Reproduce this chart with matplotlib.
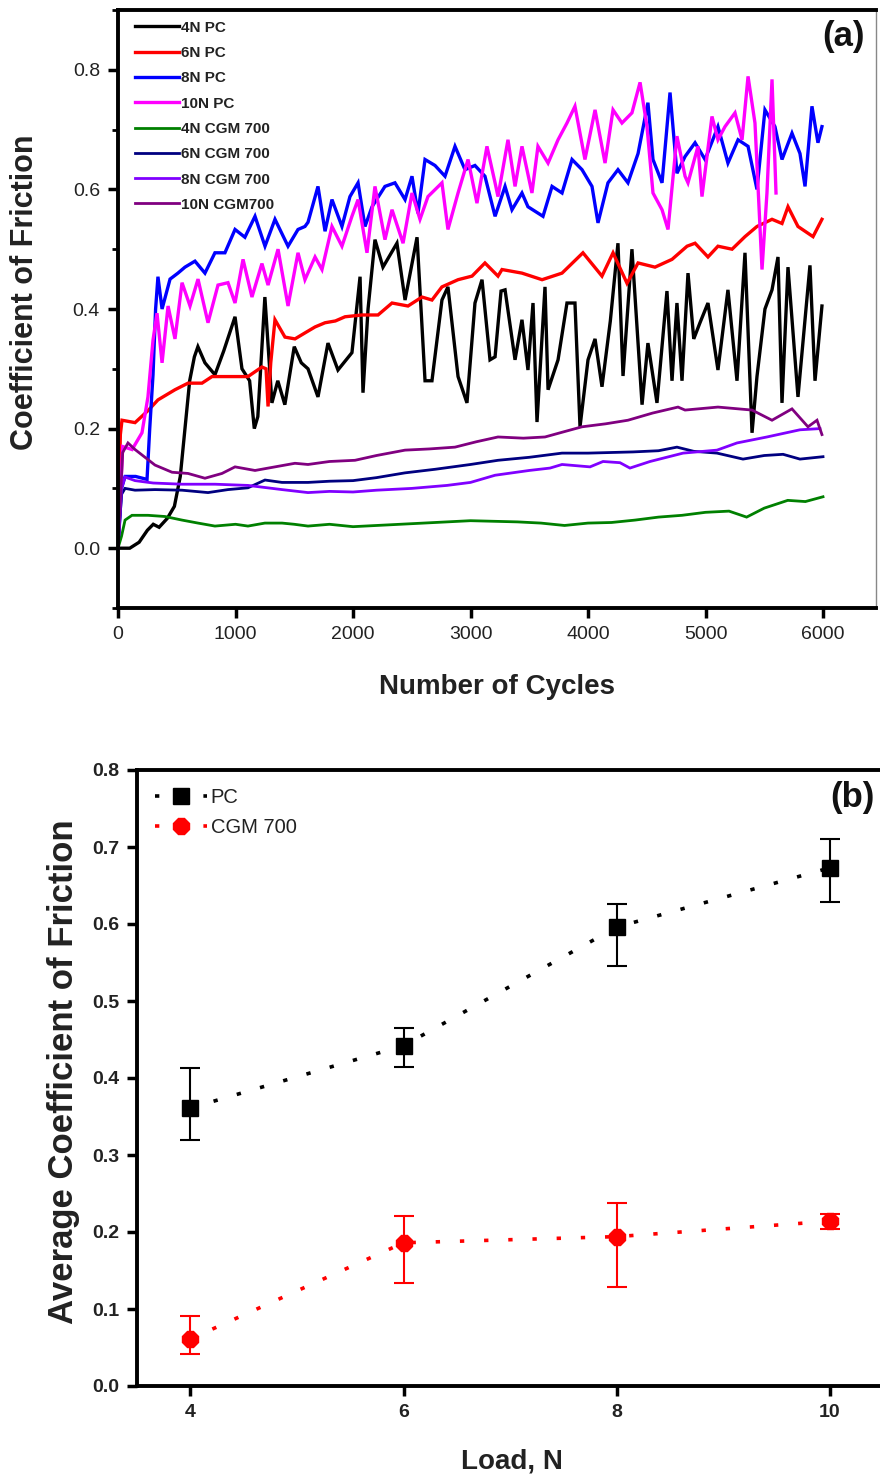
import matplotlib
matplotlib.use("Agg")
import matplotlib.pyplot as plt
from matplotlib.lines import Line2D
from matplotlib.ticker import MultipleLocator

plt.rcParams['font.family'] = ['Liberation Sans', 'DejaVu Sans']

# ---------------- Panel (a) data: (cycles, COF) ----------------
pc4_x = [0, 100, 180, 250, 300, 350, 420, 480, 530, 570, 610, 650, 680, 740, 825, 900, 996, 1055, 1120, 1160,
         1190, 1250, 1310, 1360, 1420, 1500, 1560, 1617, 1702, 1787, 1872, 1991, 2060, 2085, 2128, 2187, 2255,
         2374, 2443, 2545, 2613, 2672, 2757, 2808, 2894, 2970, 3038, 3098, 3166, 3209, 3260, 3294, 3379, 3438,
         3489, 3532, 3566, 3634, 3660, 3745, 3821, 3889, 3932, 4000, 4060, 4119, 4190, 4255, 4298, 4374, 4460,
         4510, 4587, 4672, 4715, 4757, 4800, 4851, 4900, 4953, 5021, 5106, 5191, 5268, 5336, 5396, 5438, 5506,
         5566, 5617, 5651, 5702, 5787, 5889, 5932, 5991]
pc4_y = [0.0, 0.0, 0.01, 0.03, 0.04, 0.035, 0.05, 0.07, 0.12, 0.2, 0.28, 0.32, 0.337, 0.31, 0.29, 0.33, 0.387, 0.30,
         0.28, 0.20, 0.22, 0.42, 0.243, 0.28, 0.24, 0.337, 0.31, 0.30, 0.253, 0.343, 0.298, 0.327, 0.454, 0.26,
         0.40, 0.516, 0.47, 0.51, 0.415, 0.52, 0.28, 0.28, 0.415, 0.437, 0.287, 0.243, 0.41, 0.449, 0.315, 0.32,
         0.43, 0.432, 0.315, 0.382, 0.298, 0.41, 0.211, 0.437, 0.265, 0.315, 0.41, 0.41, 0.203, 0.315, 0.35, 0.27,
         0.38, 0.51, 0.288, 0.50, 0.24, 0.343, 0.243, 0.43, 0.28, 0.41, 0.28, 0.46, 0.35, 0.377, 0.41, 0.298,
         0.432, 0.28, 0.494, 0.193, 0.287, 0.40, 0.432, 0.487, 0.243, 0.47, 0.253, 0.473, 0.28, 0.405]

pc6_x = [0, 20, 34, 145, 255, 340, 485, 596, 715, 800, 936, 1106, 1225, 1260, 1277, 1300, 1336, 1421, 1506, 1591,
         1677, 1762, 1850, 1932, 2077, 2213, 2332, 2468, 2587, 2672, 2757, 2894, 3013, 3123, 3234, 3268, 3438,
         3609, 3779, 3957, 4119, 4213, 4332, 4426, 4570, 4715, 4843, 4911, 5021, 5106, 5226, 5336, 5438, 5566,
         5651, 5702, 5787, 5915, 5991]
pc6_y = [0.0, 0.19, 0.214, 0.21, 0.23, 0.248, 0.265, 0.276, 0.276, 0.287, 0.287, 0.287, 0.303, 0.30, 0.237, 0.31,
         0.382, 0.353, 0.35, 0.36, 0.37, 0.377, 0.38, 0.387, 0.39, 0.39, 0.41, 0.405, 0.42, 0.415, 0.437, 0.449,
         0.455, 0.477, 0.455, 0.466, 0.46, 0.449, 0.46, 0.494, 0.455, 0.494, 0.443, 0.477, 0.47, 0.483, 0.505,
         0.51, 0.487, 0.505, 0.5, 0.521, 0.538, 0.55, 0.543, 0.571, 0.538, 0.521, 0.55]

pc8_x = [0, 30, 60, 150, 247, 270, 298, 320, 340, 375, 443, 510, 570, 655, 740, 825, 910, 996, 1080, 1166, 1251,
         1336, 1447, 1532, 1591, 1617, 1702, 1762, 1821, 1906, 1974, 2043, 2102, 2162, 2272, 2357, 2443, 2502,
         2553, 2613, 2698, 2783, 2868, 2953, 3038, 3123, 3209, 3294, 3353, 3438, 3489, 3617, 3694, 3779, 3864,
         3949, 4034, 4085, 4170, 4255, 4340, 4426, 4510, 4553, 4630, 4698, 4757, 4826, 4911, 4996, 5106, 5191,
         5277, 5362, 5438, 5506, 5591, 5651, 5736, 5804, 5847, 5906, 5957, 5991]
pc8_y = [0.0, 0.10, 0.12, 0.12, 0.115, 0.2, 0.29, 0.40, 0.454, 0.40, 0.45, 0.46, 0.47, 0.48, 0.46, 0.494, 0.494,
         0.533, 0.52, 0.555, 0.505, 0.55, 0.505, 0.533, 0.538, 0.545, 0.605, 0.53, 0.583, 0.538, 0.588, 0.611,
         0.538, 0.571, 0.605, 0.611, 0.583, 0.622, 0.56, 0.65, 0.64, 0.622, 0.672, 0.633, 0.64, 0.622, 0.555,
         0.605, 0.566, 0.594, 0.571, 0.555, 0.605, 0.594, 0.65, 0.633, 0.605, 0.544, 0.611, 0.633, 0.611, 0.66,
         0.745, 0.65, 0.611, 0.762, 0.627, 0.655, 0.678, 0.65, 0.705, 0.644, 0.683, 0.672, 0.6, 0.733, 0.705,
         0.65, 0.694, 0.66, 0.605, 0.739, 0.678, 0.705]

pc10_x = [0, 40, 120, 204, 255, 298, 332, 375, 426, 485, 545, 613, 681, 766, 851, 936, 996, 1064, 1140, 1225,
          1277, 1362, 1447, 1532, 1591, 1677, 1736, 1821, 1906, 1991, 2043, 2119, 2187, 2272, 2332, 2426, 2502,
          2570, 2638, 2757, 2808, 2894, 2979, 3055, 3140, 3209, 3234, 3319, 3379, 3438, 3523, 3574, 3660, 3745,
          3821, 3889, 3974, 4060, 4145, 4213, 4289, 4374, 4443, 4502, 4553, 4630, 4681, 4757, 4826, 4851, 4936,
          4970, 5055, 5106, 5166, 5251, 5311, 5362, 5421, 5481, 5523, 5566, 5600]
pc10_y = [0.0, 0.17, 0.165, 0.193, 0.253, 0.348, 0.393, 0.31, 0.405, 0.35, 0.444, 0.405, 0.45, 0.377, 0.44, 0.444,
          0.41, 0.483, 0.42, 0.476, 0.44, 0.5, 0.405, 0.494, 0.449, 0.487, 0.466, 0.538, 0.505, 0.555, 0.583,
          0.494, 0.605, 0.516, 0.566, 0.51, 0.594, 0.55, 0.588, 0.611, 0.533, 0.594, 0.65, 0.577, 0.672, 0.611,
          0.588, 0.683, 0.605, 0.672, 0.594, 0.672, 0.644, 0.683, 0.711, 0.739, 0.65, 0.733, 0.644, 0.733, 0.711,
          0.728, 0.779, 0.705, 0.594, 0.566, 0.533, 0.689, 0.622, 0.611, 0.672, 0.588, 0.722, 0.683, 0.705,
          0.728, 0.683, 0.789, 0.711, 0.466, 0.594, 0.784, 0.594]

cgm4_x = [0, 30, 60, 119, 255, 400, 545, 681, 825, 1000, 1106, 1250, 1396, 1500, 1617, 1800, 2000, 2200, 2400,
          2600, 2800, 3000, 3200, 3400, 3600, 3800, 4000, 4200, 4400, 4600, 4800, 5000, 5200, 5350, 5500, 5700,
          5850, 6000]
cgm4_y = [0.0, 0.02, 0.047, 0.055, 0.055, 0.053, 0.047, 0.042, 0.037, 0.04, 0.037, 0.042, 0.042, 0.04, 0.037,
          0.04, 0.036, 0.038, 0.04, 0.042, 0.044, 0.046, 0.045, 0.044, 0.042, 0.038, 0.042, 0.043, 0.047, 0.052,
          0.055, 0.06, 0.062, 0.052, 0.067, 0.08, 0.078, 0.086]

cgm6_x = [0, 30, 60, 145, 315, 545, 766, 936, 1106, 1251, 1396, 1617, 1800, 2000, 2200, 2443, 2700, 3000, 3234,
          3500, 3779, 4000, 4383, 4600, 4757, 4900, 5098, 5319, 5500, 5660, 5804, 6000]
cgm6_y = [0.0, 0.09, 0.1, 0.097, 0.098, 0.097, 0.093, 0.098, 0.101, 0.114, 0.11, 0.11, 0.112, 0.113, 0.118,
          0.126, 0.132, 0.14, 0.147, 0.152, 0.159, 0.159, 0.161, 0.163, 0.169, 0.162, 0.159, 0.149, 0.155,
          0.157, 0.149, 0.153]

cgm8_x = [0, 30, 60, 145, 300, 545, 825, 1106, 1396, 1617, 1800, 2000, 2200, 2500, 2800, 3000, 3209, 3500, 3677,
          3779, 4017, 4128, 4272, 4357, 4528, 4809, 5098, 5268, 5523, 5804, 5974]
cgm8_y = [0.0, 0.1, 0.119, 0.113, 0.109, 0.107, 0.107, 0.105, 0.098, 0.093, 0.095, 0.094, 0.097, 0.1, 0.105,
          0.11, 0.122, 0.13, 0.134, 0.14, 0.136, 0.145, 0.143, 0.134, 0.145, 0.159, 0.164, 0.176, 0.186, 0.198, 0.2]

cgm10_x = [0, 40, 85, 145, 230, 315, 460, 596, 740, 885, 996, 1166, 1336, 1506, 1617, 1800, 2017, 2200, 2443,
           2650, 2868, 3050, 3234, 3450, 3634, 3800, 3949, 4150, 4340, 4550, 4766, 4826, 5106, 5396, 5566, 5736,
           5872, 5949, 5991]
cgm10_y = [0.0, 0.16, 0.176, 0.165, 0.152, 0.139, 0.127, 0.125, 0.117, 0.125, 0.136, 0.13, 0.136, 0.142, 0.14,
           0.145, 0.147, 0.155, 0.164, 0.166, 0.169, 0.178, 0.186, 0.184, 0.186, 0.195, 0.203, 0.208, 0.214,
           0.226, 0.236, 0.231, 0.236, 0.231, 0.214, 0.233, 0.203, 0.214, 0.19]

series_labels = ['4N PC', '6N PC', '8N PC', '10N PC', '4N CGM 700', '6N CGM 700', '8N CGM 700', '10N CGM700']
series_colors = ['#000000', '#ff0000', '#0000ff', '#ff00ff', '#008000', '#000080', '#8000ff', '#800080']

# ---------------- Panel (b) data ----------------
load = [4, 6, 8, 10]
pc_mean = [0.361, 0.442, 0.596, 0.673]
pc_err_lo = [0.042, 0.028, 0.051, 0.045]
pc_err_hi = [0.052, 0.023, 0.030, 0.037]
cgm_mean = [0.061, 0.186, 0.194, 0.214]
cgm_err_lo = [0.019, 0.052, 0.065, 0.010]
cgm_err_hi = [0.030, 0.035, 0.044, 0.009]

W, H = 880, 1479
fig = plt.figure(figsize=(W / 100, H / 100), dpi=100)

tick_color = '#222222'

# ================= Panel (a) =================
ax1 = fig.add_axes([118 / W, 1 - 608 / H, (876 - 118) / W, (608 - 10) / H])
xs = [pc4_x, pc6_x, pc8_x, pc10_x, cgm4_x, cgm6_x, cgm8_x, cgm10_x]
ys = [pc4_y, pc6_y, pc8_y, pc10_y, cgm4_y, cgm6_y, cgm8_y, cgm10_y]
for i, (x, y, lab, c) in enumerate(zip(xs, ys, series_labels, series_colors)):
    ax1.plot(x, y, color=c, lw=2.4 if i < 4 else 2.0, label=lab, solid_joinstyle='miter')

ax1.set_xlim(0, 6451)
ax1.set_ylim(-0.1, 0.9)
ax1.set_xticks([0, 1000, 2000, 3000, 4000, 5000, 6000])
ax1.set_yticks([0.0, 0.2, 0.4, 0.6, 0.8])
ax1.yaxis.set_minor_locator(MultipleLocator(0.1))
ax1.set_yticklabels(['0.0', '0.2', '0.4', '0.6', '0.8'])
for s in ['left', 'bottom', 'top']:
    ax1.spines[s].set_linewidth(2.8)
ax1.spines['right'].set_linewidth(1.0)
ax1.spines['right'].set_color('#888888')
ax1.tick_params(axis='both', which='major', direction='out', length=7, width=2.5,
                labelsize=14, labelcolor=tick_color, pad=6)
ax1.tick_params(axis='y', which='minor', direction='out', length=4, width=2)
ax1.set_xlabel('Number of Cycles', fontsize=20, fontweight='bold', color='#222222', labelpad=22)
ax1.set_ylabel('Coefficient of Friction', fontsize=22, fontweight='bold', color='#222222')
ax1.yaxis.set_label_coords(-0.103, 0.528)
ax1.text(0.985, 0.955, '(a)', transform=ax1.transAxes, ha='right', va='center',
         fontsize=25, fontweight='bold', color='#111111')
leg1 = ax1.legend(loc='upper left', bbox_to_anchor=(0.008, 1.0), frameon=False,
                  prop={'size': 11, 'weight': 'bold'}, handlelength=2.9, handletextpad=0.15,
                  labelspacing=0.74, borderaxespad=0.3)
for t in leg1.get_texts():
    t.set_color('#222222')

# ================= Panel (b) =================
ax2 = fig.add_axes([137 / W, 1 - 1386 / H, (886 - 137) / W, (1386 - 770) / H])
dot_style = (0, (1.2, 5.5))
ax2.errorbar(load, pc_mean, yerr=[pc_err_lo, pc_err_hi], color='black', ls=dot_style, lw=2.6,
             marker='s', ms=11, mfc='black', mec='black', ecolor='black', elinewidth=1.5,
             capsize=7, capthick=1.5, label='PC')
ax2.errorbar(load, cgm_mean, yerr=[cgm_err_lo, cgm_err_hi], color='#ff0000', ls=dot_style, lw=2.6,
             marker='8', ms=12, mfc='#ff0000', mec='#ff0000', ecolor='#ff0000', elinewidth=1.5,
             capsize=7, capthick=1.5, label='CGM 700')
ax2.set_xlim(3.5, 10.525)
ax2.set_ylim(0.0, 0.8)
ax2.set_xticks(load)
ax2.set_yticks([0.0, 0.1, 0.2, 0.3, 0.4, 0.5, 0.6, 0.7, 0.8])
ax2.set_yticklabels(['0.0', '0.1', '0.2', '0.3', '0.4', '0.5', '0.6', '0.7', '0.8'])
for s in ['left', 'bottom', 'top']:
    ax2.spines[s].set_linewidth(2.8)
ax2.spines['right'].set_visible(False)
ax2.tick_params(axis='both', which='major', direction='out', length=7, width=2.5,
                labelsize=14, labelcolor=tick_color, pad=6)
for lab in ax2.get_xticklabels() + ax2.get_yticklabels():
    lab.set_fontweight('bold')
ax2.set_xlabel('Load, N', fontsize=20, fontweight='bold', color='#222222', labelpad=20)
ax2.set_ylabel('Average Coefficient of Friction', fontsize=25, fontweight='bold', color='#222222')
ax2.yaxis.set_label_coords(-0.076, 0.51)
ax2.text(0.985, 0.955, '(b)', transform=ax2.transAxes, ha='right', va='center',
         fontsize=25, fontweight='bold', color='#111111')
h_pc = Line2D([], [], color='black', ls=dot_style, lw=2.6, marker='s', ms=11)
h_cgm = Line2D([], [], color='#ff0000', ls=dot_style, lw=2.6, marker='8', ms=12)
leg2 = ax2.legend([h_pc, h_cgm], ['PC', 'CGM 700'], loc='upper left', bbox_to_anchor=(0.0, 1.0),
                  frameon=False, fontsize=14.5, handlelength=2.6, handletextpad=0.15, labelspacing=0.55,
                  borderaxespad=0.5)
for t in leg2.get_texts():
    t.set_color('#222222')

fig.savefig('out.png', dpi=100)
